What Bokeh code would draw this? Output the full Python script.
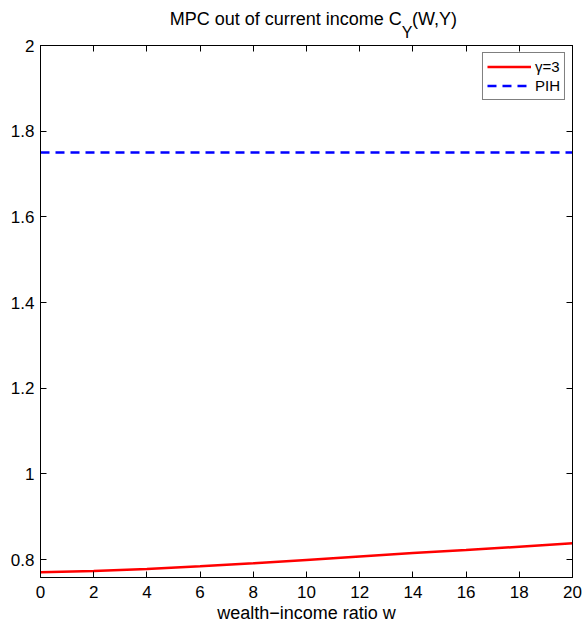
from bokeh.plotting import figure
from bokeh.layouts import column
from bokeh.models import Range1d, FixedTicker, LinearAxis, Label, Legend, LegendItem
from bokeh.embed import file_html
from bokeh.resources import INLINE

# data
w = [0, 2, 4, 6, 8, 10, 12, 14, 16, 18, 20]
mpc_gamma3 = [0.770, 0.773, 0.778, 0.784, 0.791, 0.799, 0.807, 0.815, 0.822, 0.830, 0.838]
pih_level = [1.75, 1.75]
pih_w = [0, 20]
x_ticks = [0, 2, 4, 6, 8, 10, 12, 14, 16, 18, 20]
y_ticks = [0.8, 1.0, 1.2, 1.4, 1.6, 1.8, 2.0]
y_tick_labels = ["0.8", "1", "1.2", "1.4", "1.6", "1.8", "2"]
title_main = "MPC out of current income C"
title_sub = "Y"
title_tail = "(W,Y)"

FONT = "Liberation Sans"
HEAD_H = 48      # header strip height (title)
OVERLAP = 15     # main figure slides up under the header by this much

# ---- header figure holding the title (with subscript) ----
h = figure(width=583, height=HEAD_H, output_backend="svg", toolbar_location=None,
           title=None,
           x_range=Range1d(0, 583), y_range=Range1d(0, HEAD_H),
           x_axis_location=None, y_axis_location=None,
           min_border=0, min_border_left=0, min_border_right=0,
           min_border_top=0, min_border_bottom=0)
h.xgrid.visible = False
h.ygrid.visible = False
h.outline_line_color = None
h.background_fill_color = None
h.border_fill_color = None
h.add_layout(Label(x=396, y=HEAD_H - 18, text=title_main,
                   text_align="right", text_baseline="middle",
                   text_font=FONT, text_font_size="18px", text_color="black"))
h.add_layout(Label(x=396, y=HEAD_H - 32, text=title_sub,
                   text_align="left", text_baseline="middle",
                   text_font=FONT, text_font_size="16px", text_color="black"))
h.add_layout(Label(x=407, y=HEAD_H - 18, text=title_tail,
                   text_align="left", text_baseline="middle",
                   text_font=FONT, text_font_size="18px", text_color="black"))

# ---- main figure ----
p = figure(width=583, height=625 - HEAD_H + OVERLAP, output_backend="svg",
           toolbar_location=None, title=None,
           x_range=Range1d(0, 20), y_range=Range1d(0.758, 2.0),
           min_border_left=40, min_border_right=11, min_border_top=OVERLAP - 3,
           min_border_bottom=47)
p.margin = (-OVERLAP, 0, 0, 0)
p.xgrid.visible = False
p.ygrid.visible = False
p.outline_line_color = "black"
p.outline_line_width = 1
p.background_fill_color = "white"
p.border_fill_color = None

def style(ax, labels=True):
    ax.axis_line_color = "black"
    ax.major_tick_in = 6
    ax.major_tick_out = 0
    ax.minor_tick_line_color = None
    ax.major_tick_line_color = "black"
    ax.major_label_text_font = FONT
    ax.major_label_text_font_size = "17px"
    ax.major_label_text_color = "black"
    if not labels:
        ax.major_label_text_font_size = "0px"
        ax.major_label_text_color = None

p.xaxis.ticker = FixedTicker(ticks=x_ticks)
p.yaxis.ticker = FixedTicker(ticks=y_ticks)
p.yaxis.major_label_overrides = {v: s for v, s in zip(y_ticks, y_tick_labels)}
style(p.xaxis[0]); style(p.yaxis[0])
p.xaxis.major_label_standoff = 8
p.yaxis.major_label_standoff = 6
p.xaxis.axis_label = "wealth\u2212income ratio w"
p.xaxis.axis_label_text_font = FONT
p.xaxis.axis_label_text_font_size = "18px"
p.xaxis.axis_label_text_font_style = "normal"
p.xaxis.axis_label_text_color = "black"
p.xaxis.axis_label_standoff = 2

top = LinearAxis(ticker=FixedTicker(ticks=x_ticks))
right = LinearAxis(ticker=FixedTicker(ticks=y_ticks))
style(top, False); style(right, False)
top.major_label_standoff = 0
right.major_label_standoff = 0
p.add_layout(top, "above")
p.add_layout(right, "right")

r1 = p.line(w, mpc_gamma3, line_color="#ff0000", line_width=2.5)
r2 = p.line(pih_w, pih_level, line_color="#0000ff", line_width=2.5, line_dash="9 6")

legend = Legend(items=[LegendItem(label="\u03b3=3", renderers=[r1]),
                       LegendItem(label="PIH", renderers=[r2])],
                location="top_right")
legend.label_text_font = FONT
legend.label_text_font_size = "15px"
legend.label_text_color = "black"
legend.glyph_width = 44
legend.label_height = 19
legend.glyph_height = 19
legend.spacing = 0
legend.padding = 4
legend.margin = 7
legend.label_standoff = 4
legend.border_line_color = "black"
legend.border_line_width = 1
legend.background_fill_alpha = 1
p.add_layout(legend)

layout = column(h, p, spacing=0)
open("out.html", "w").write(file_html(layout, INLINE))
